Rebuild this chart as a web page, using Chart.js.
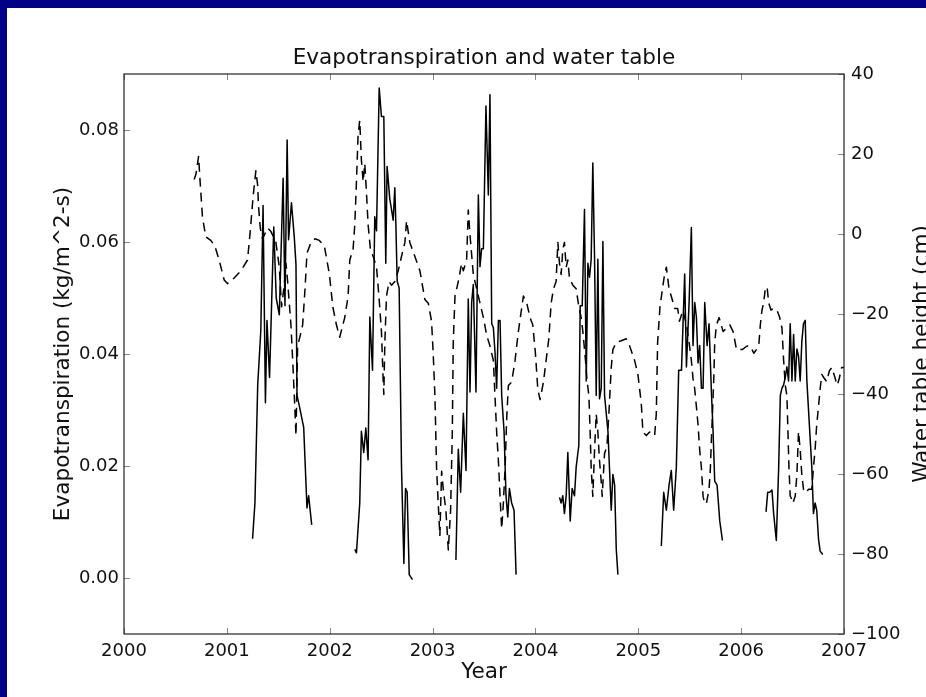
<!DOCTYPE html>
<html lang="en">
<head>
    <meta charset="UTF-8">
    <title>Evapotranspiration and water table</title>
    <script src="https://cdn.jsdelivr.net/npm/chart.js"></script>
    <style>
        html, body { margin: 0; padding: 0; background: #000088; width: 926px; height: 697px; overflow: hidden; }
        .hoja { position: absolute; left: 7px; top: 8px; width: 919px; height: 689px; background: #fff; }
        canvas { display: block; }
    </style>
</head>
<body>
    <div class="hoja">
        <canvas id="grafico" width="919" height="689"></canvas>
    </div>

    <script>
        // evapotranspiration (kg/m^2-s), one growing season per block, null = gap
        const etYear = [
            2001.250, 2001.273, 2001.300, 2001.330, 2001.352, 2001.375, 2001.390, 2001.415, 2001.456, 2001.480,
            2001.510, 2001.547, 2001.565, 2001.586, 2001.600, 2001.628, 2001.655, 2001.672, 2001.682, 2001.705,
            2001.747, 2001.779, 2001.795, 2001.825, 2002.000,
            2002.244, 2002.260, 2002.292, 2002.308, 2002.331, 2002.351, 2002.373, 2002.390, 2002.416, 2002.438,
            2002.455, 2002.481, 2002.503, 2002.526, 2002.545, 2002.558, 2002.584, 2002.617, 2002.633, 2002.643,
            2002.656, 2002.675, 2002.698, 2002.721, 2002.737, 2002.753, 2002.773, 2002.805, 2003.000,
            2003.227, 2003.250, 2003.273, 2003.299, 2003.325, 2003.347, 2003.364, 2003.380, 2003.396, 2003.422,
            2003.445, 2003.461, 2003.477, 2003.494, 2003.519, 2003.542, 2003.558, 2003.575, 2003.591, 2003.607,
            2003.623, 2003.640, 2003.656, 2003.672, 2003.695, 2003.714, 2003.731, 2003.747, 2003.769, 2003.792,
            2003.812, 2004.000,
            2004.234, 2004.250, 2004.266, 2004.282, 2004.299, 2004.315, 2004.338, 2004.357, 2004.380, 2004.396,
            2004.422, 2004.435, 2004.455, 2004.477, 2004.494, 2004.510, 2004.526, 2004.542, 2004.558, 2004.575,
            2004.591, 2004.607, 2004.623, 2004.640, 2004.656, 2004.672, 2004.705, 2004.737, 2004.753, 2004.770,
            2004.786, 2004.802, 2005.000,
            2005.224, 2005.247, 2005.273, 2005.299, 2005.321, 2005.344, 2005.370, 2005.393, 2005.420, 2005.435,
            2005.451, 2005.468, 2005.494, 2005.516, 2005.532, 2005.549, 2005.565, 2005.581, 2005.597, 2005.614,
            2005.630, 2005.646, 2005.669, 2005.688, 2005.711, 2005.727, 2005.743, 2005.766, 2005.792, 2005.818,
            2006.000,
            2006.242, 2006.258, 2006.277, 2006.300, 2006.316, 2006.342, 2006.365, 2006.381, 2006.397, 2006.413,
            2006.429, 2006.445, 2006.461, 2006.477, 2006.494, 2006.510, 2006.526, 2006.542, 2006.558, 2006.574,
            2006.590, 2006.606, 2006.623, 2006.639, 2006.665, 2006.687, 2006.703, 2006.719, 2006.735, 2006.752,
            2006.768, 2006.794
        ];
        const etValue = [
            0.0070, 0.0134, 0.0345, 0.0441, 0.0665, 0.0313, 0.0460, 0.0358, 0.0627, 0.0500,
            0.0470, 0.0714, 0.0486, 0.0782, 0.0604, 0.0670, 0.0610, 0.0560, 0.0326, 0.0307,
            0.0269, 0.0125, 0.0147, 0.0095, null,
            0.0051, 0.0045, 0.0134, 0.0262, 0.0224, 0.0268, 0.0211, 0.0466, 0.0371, 0.0645,
            0.0620, 0.0875, 0.0824, 0.0824, 0.0562, 0.0735, 0.0677, 0.0639, 0.0697, 0.0633,
            0.0530, 0.0518, 0.0198, 0.0026, 0.0160, 0.0153, 0.0006, -0.0003, null,
            0.0032, 0.0230, 0.0153, 0.0294, 0.0192, 0.0498, 0.0332, 0.0492, 0.0524, 0.0332,
            0.0684, 0.0556, 0.0588, 0.0588, 0.0843, 0.0684, 0.0863, 0.0454, 0.0447, 0.0403,
            0.0339, 0.0460, 0.0460, 0.0326, 0.0262, 0.0147, 0.0109, 0.0160, 0.0134, 0.0121,
            0.0006, null,
            0.0144, 0.0134, 0.0147, 0.0115, 0.0147, 0.0224, 0.0102, 0.0160, 0.0147, 0.0198,
            0.0237, 0.0486, 0.0486, 0.0658, 0.0352, 0.0562, 0.0537, 0.0569, 0.0741, 0.0569,
            0.0326, 0.0569, 0.0320, 0.0339, 0.0601, 0.0326, 0.0262, 0.0121, 0.0185, 0.0166,
            0.0051, 0.0006, null,
            0.0057, 0.0153, 0.0121, 0.0166, 0.0192, 0.0121, 0.0198, 0.0371, 0.0371, 0.0454,
            0.0543, 0.0377, 0.0492, 0.0626, 0.0415, 0.0492, 0.0466, 0.0384, 0.0415, 0.0339,
            0.0339, 0.0492, 0.0415, 0.0454, 0.0332, 0.0262, 0.0173, 0.0166, 0.0102, 0.0067,
            null,
            0.0118, 0.0153, 0.0153, 0.0157, 0.0115, 0.0067, 0.0198, 0.0326, 0.0339, 0.0345,
            0.0358, 0.0377, 0.0352, 0.0454, 0.0352, 0.0435, 0.0352, 0.0409, 0.0396, 0.0352,
            0.0422, 0.0454, 0.0460, 0.0352, 0.0268, 0.0198, 0.0115, 0.0134, 0.0121, 0.0070,
            0.0048, 0.0042
        ];

        // water table height (cm)
        const wtYear = [
            2000.682, 2000.700, 2000.725, 2000.740, 2000.763, 2000.795, 2000.844, 2000.883, 2000.925, 2000.974,
            2001.006, 2001.071, 2001.136, 2001.201, 2001.227, 2001.256, 2001.282, 2001.299, 2001.308, 2001.325,
            2001.347, 2001.396, 2001.429, 2001.477, 2001.510, 2001.532, 2001.558, 2001.575, 2001.591, 2001.607,
            2001.623, 2001.640, 2001.656, 2001.672, 2001.688, 2001.714, 2001.737, 2001.760, 2001.779, 2001.818,
            2001.857, 2001.899, 2001.948, 2001.997, 2002.030, 2002.065, 2002.097, 2002.146, 2002.179, 2002.195,
            2002.227, 2002.244, 2002.260, 2002.276, 2002.292, 2002.308, 2002.325, 2002.341, 2002.357, 2002.373,
            2002.396, 2002.422, 2002.455, 2002.481, 2002.503, 2002.519, 2002.526, 2002.536, 2002.552, 2002.578,
            2002.601, 2002.633, 2002.666, 2002.698, 2002.731, 2002.747, 2002.779, 2002.828, 2002.877, 2002.925,
            2002.958, 2002.990, 2003.006, 2003.023, 2003.039, 2003.055, 2003.071, 2003.088, 2003.104, 2003.130,
            2003.153, 2003.175, 2003.192, 2003.201, 2003.218, 2003.250, 2003.282, 2003.299, 2003.331, 2003.347,
            2003.364, 2003.396, 2003.429, 2003.461, 2003.494, 2003.526, 2003.558, 2003.591, 2003.607, 2003.623,
            2003.640, 2003.656, 2003.672, 2003.688, 2003.705, 2003.721, 2003.737, 2003.769, 2003.802, 2003.834,
            2003.883, 2003.916, 2003.948, 2003.974, 2004.000, 2004.023, 2004.045, 2004.078, 2004.104, 2004.130,
            2004.153, 2004.175, 2004.201, 2004.218, 2004.234, 2004.250, 2004.266, 2004.282, 2004.299, 2004.315,
            2004.331, 2004.364, 2004.396, 2004.422, 2004.445, 2004.461, 2004.487, 2004.500, 2004.520, 2004.532,
            2004.542, 2004.558, 2004.575, 2004.591, 2004.607, 2004.623, 2004.640, 2004.649, 2004.672, 2004.695,
            2004.714, 2004.737, 2004.753, 2004.786, 2004.834, 2004.883, 2004.916, 2004.964, 2004.997, 2005.029,
            2005.045, 2005.078, 2005.110, 2005.159, 2005.175, 2005.188, 2005.211, 2005.240, 2005.256, 2005.273,
            2005.299, 2005.320, 2005.354, 2005.383, 2005.400, 2005.435, 2005.468, 2005.494, 2005.516, 2005.532,
            2005.549, 2005.565, 2005.581, 2005.597, 2005.614, 2005.630, 2005.646, 2005.662, 2005.688, 2005.701,
            2005.711, 2005.721, 2005.734, 2005.743, 2005.760, 2005.786, 2005.825, 2005.857, 2005.890, 2005.922,
            2005.955, 2006.010, 2006.058, 2006.090, 2006.123, 2006.148, 2006.171, 2006.187, 2006.203, 2006.219,
            2006.235, 2006.252, 2006.268, 2006.290, 2006.316, 2006.348, 2006.374, 2006.397, 2006.413, 2006.429,
            2006.445, 2006.455, 2006.465, 2006.477, 2006.494, 2006.503, 2006.526, 2006.542, 2006.558, 2006.574,
            2006.590, 2006.606, 2006.632, 2006.655, 2006.687, 2006.703, 2006.719, 2006.735, 2006.752, 2006.768,
            2006.784, 2006.806, 2006.832, 2006.858, 2006.881, 2006.903, 2006.923, 2006.935, 2006.955, 2006.977,
            2007.000
        ];
        const wtValue = [
            13.6, 15.0, 19.4, 13.1, 4.2, -0.7, -1.6, -3.0, -6.5, -11.5,
            -12.4, -11.0, -9.2, -6.5, 0.6, 9.6, 15.8, 12.3, 6.9, 1.5,
            -1.2, 1.5, 0.6, -2.1, -8.3, -18.2, -12.8, -7.4, -11.9, -17.3,
            -22.7, -31.6, -40.6, -50.4, -28.0, -25.3, -22.7, -13.7, -4.8, -2.1,
            -1.2, -1.6, -3.0, -10.1, -18.2, -22.7, -25.8, -20.9, -15.5, -6.5,
            -3.9, 2.4, 13.1, 24.8, 28.4, 18.5, 13.1, 17.6, 10.5, 2.4,
            -3.9, -5.6, -8.3, -16.4, -24.4, -36.1, -40.1, -27.1, -15.5, -11.9,
            -12.8, -11.9, -9.2, -5.6, -2.1, 3.3, -2.1, -5.6, -9.2, -16.4,
            -17.3, -21.8, -29.8, -40.6, -58.5, -67.4, -75.5, -59.3, -63.8, -69.2,
            -79.0, -69.2, -49.5, -27.1, -15.5, -11.9, -7.4, -9.2, -6.5, 6.0,
            -0.3, -10.1, -13.7, -17.3, -20.9, -25.3, -28.0, -31.6, -40.6, -49.5,
            -56.7, -65.6, -73.7, -67.4, -58.5, -45.9, -37.9, -37.0, -31.6, -24.4,
            -15.5, -17.3, -20.9, -22.7, -29.8, -38.8, -41.4, -37.0, -31.6, -26.2,
            -17.3, -13.7, -11.9, -2.1, -7.4, -10.1, -3.9, -2.1, -8.3, -6.5,
            -11.0, -12.8, -13.7, -18.2, -20.9, -24.4, -31.6, -36.1, -40.6, -49.5,
            -58.5, -65.6, -54.0, -45.0, -49.5, -56.7, -62.0, -65.6, -54.9, -53.1,
            -45.0, -33.4, -28.9, -27.1, -26.7, -26.2, -28.0, -31.6, -35.2, -42.3,
            -49.5, -50.4, -49.5, -50.4, -45.0, -27.1, -18.2, -12.8, -10.1, -8.3,
            -13.7, -15.5, -18.6, -18.6, -21.8, -19.1, -22.7, -27.1, -31.6, -36.1,
            -38.8, -43.2, -47.7, -54.0, -58.5, -65.6, -67.4, -67.4, -63.8, -58.5,
            -51.3, -45.0, -36.1, -27.1, -22.7, -20.9, -24.4, -23.5, -22.7, -24.4,
            -28.9, -28.9, -28.0, -28.0, -29.8, -28.9, -28.0, -22.6, -19.0, -17.2,
            -13.6, -13.2, -17.2, -19.0, -18.6, -19.0, -20.8, -23.5, -31.6, -37.8,
            -40.5, -49.4, -58.4, -65.5, -66.4, -67.3, -65.5, -60.2, -49.4, -53.9,
            -60.2, -63.8, -64.7, -63.8, -63.8, -58.4, -53.9, -47.6, -43.2, -38.7,
            -35.1, -36.0, -36.9, -34.2, -33.4, -35.1, -36.9, -37.8, -36.0, -33.4,
            -33.4
        ];

        const etTicks = [0, 0.02, 0.04, 0.06, 0.08];
        const titulo = 'Evapotranspiration and water table';
        const etiquetaX = 'Year';
        const etiquetaY = 'Evapotranspiration (kg/m^2-s)';
        const etiquetaY2 = 'Water table height (cm)';

        const fuente = { family: 'DejaVu Sans', size: 18 };
        const menos = v => v < 0 ? '\u2212' + Math.abs(v) : String(v);

        // marco, marcas hacia dentro y textos al estilo matplotlib
        const marco = {
            id: 'marco',
            afterDraw(chart) {
                const c = chart.ctx, a = chart.chartArea;
                const sx = chart.scales.x, sy = chart.scales.y, sy2 = chart.scales.y2;
                c.save();
                c.strokeStyle = '#888';
                c.lineWidth = 1;
                c.beginPath();
                sx.ticks.forEach(t => {
                    const px = Math.round(sx.getPixelForValue(t.value)) + 0.5;
                    c.moveTo(px, a.bottom); c.lineTo(px, a.bottom - 6);
                    c.moveTo(px, a.top); c.lineTo(px, a.top + 6);
                });
                sy.ticks.forEach(t => {
                    const py = Math.round(sy.getPixelForValue(t.value)) + 0.5;
                    c.moveTo(a.left, py); c.lineTo(a.left + 6, py);
                });
                sy2.ticks.forEach(t => {
                    const py = Math.round(sy2.getPixelForValue(t.value)) + 0.5;
                    c.moveTo(a.right, py); c.lineTo(a.right - 6, py);
                });
                c.stroke();

                c.strokeStyle = '#222';
                c.lineWidth = 1.2;
                c.strokeRect(a.left, a.top, a.right - a.left, a.bottom - a.top);

                c.fillStyle = '#111';
                c.textAlign = 'center';
                c.textBaseline = 'alphabetic';
                c.font = '21.6px "DejaVu Sans"';
                const cx = (a.left + a.right) / 2, cy = (a.top + a.bottom) / 2;
                c.fillText(titulo, cx, a.top - 10);
                c.fillText(etiquetaX, cx, a.bottom + 44);

                c.save();
                c.translate(62, cy);
                c.rotate(-Math.PI / 2);
                c.fillText(etiquetaY, 0, 0);
                c.restore();

                c.save();
                c.translate(921, cy);
                c.rotate(-Math.PI / 2);
                c.fillText(etiquetaY2, 0, 0);
                c.restore();
                c.restore();
            }
        };

        const ctx = document.getElementById('grafico').getContext('2d');
        new Chart(ctx, {
            type: 'line',
            data: {
                datasets: [{
                    label: etiquetaY,
                    data: etYear.map((x, i) => ({ x: x, y: etValue[i] })),
                    yAxisID: 'y',
                    borderColor: '#000',
                    borderWidth: 1.5,
                    borderJoinStyle: 'round',
                    pointRadius: 0,
                    tension: 0,
                    spanGaps: false,
                    fill: false
                }, {
                    label: etiquetaY2,
                    data: wtYear.map((x, i) => ({ x: x, y: wtValue[i] })),
                    yAxisID: 'y2',
                    borderColor: '#000',
                    borderWidth: 1.5,
                    borderDash: [9, 6],
                    borderCapStyle: 'butt',
                    borderJoinStyle: 'round',
                    pointRadius: 0,
                    tension: 0,
                    fill: false
                }]
            },
            options: {
                responsive: false,
                animation: false,
                events: [],
                layout: { padding: { top: 66, left: 0, right: 0, bottom: 0 } },
                plugins: { legend: { display: false }, tooltip: { enabled: false }, title: { display: false } },
                scales: {
                    x: {
                        type: 'linear', position: 'bottom', min: 2000, max: 2007,
                        grid: { display: false, drawTicks: false }, border: { display: false },
                        ticks: { stepSize: 1, callback: v => String(v), font: fuente, color: '#111', padding: 7, maxRotation: 0, autoSkip: false },
                        afterFit: s => { s.height = 63; }
                    },
                    y: {
                        position: 'left', min: -0.01, max: 0.09,
                        grid: { display: false, drawTicks: false }, border: { display: false },
                        afterBuildTicks: s => { s.ticks = etTicks.map(v => ({ value: v })); },
                        ticks: { callback: v => v.toFixed(2), font: fuente, color: '#111', padding: 5 },
                        afterFit: s => { s.width = 117; }
                    },
                    y2: {
                        position: 'right', min: -100, max: 40,
                        grid: { display: false, drawTicks: false }, border: { display: false },
                        ticks: { stepSize: 20, callback: v => menos(v), font: fuente, color: '#111', padding: 7 },
                        afterFit: s => { s.width = 82; }
                    }
                }
            },
            plugins: [marco]
        });
    </script>
</body>
</html>
